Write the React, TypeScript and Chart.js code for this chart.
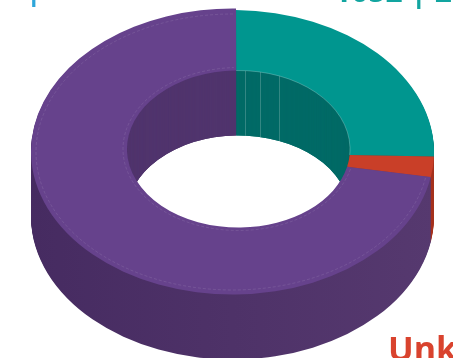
import React, { useEffect, useRef } from "react";
import { Chart, registerables } from "chart.js";

Chart.register(...registerables);

const categories = ["Known", "Unknown", "Other"];
const counts = [1052, 99, 2974];
const faceColors = ["#00968f", "#c93f28", "#66428c"];
const innerWallColors = ["#006a66", "#a5301c", "#50346d"];
const outerWallStops = [
  ["#00706b", "#00706b"],
  ["#a5301c", "#a5301c"],
  ["#462b61", "#56396f"],
];
const topLabels = [
  { before: "2974 |", rest: " 72%", pipeRight: 42, baseline: 0, color: "#2fa6da" },
  { before: "1052 |", rest: " 25%", pipeRight: 427, baseline: 2, color: "#12a5a0" },
];
const bottomLabel = { text: "Unknown", x: 388, baseline: 361, color: "#d9432e" };
const wallFacetDegrees = [3.5, 11.2, 21.5];

// Projected ring: the rims sit on slightly different centres, and the
// largest slice stands a touch prouder than the other two.
const OUTER = { x: 232.5, y: 152, rx: 201.5, ry: 142 };
const OUTER_RAISED = { x: 232.5, y: 151.5, rx: 201.5, ry: 143 };
const INNER = { x: 238.5, y: 149, rx: 111.5, ry: 78.5 };
const DEPTH = 65;
const RAD = Math.PI / 180;
const RAISED_SLICE = 2;

const outerAngle = (a: number) => a + Math.cos(a + Math.PI / 2) * RAD;
const innerAngle = (a: number) =>
  a + (-1.2 * Math.cos(a + Math.PI / 2) + 2.5 * Math.sin(a + Math.PI / 2)) * RAD;

function ringPath(ctx: CanvasRenderingContext2D, start: number, end: number, dy: number, slice: number) {
  const o = slice === RAISED_SLICE ? OUTER_RAISED : OUTER;
  ctx.beginPath();
  ctx.ellipse(o.x, o.y + dy, o.rx, o.ry, 0, outerAngle(start), outerAngle(end));
  ctx.ellipse(INNER.x, INNER.y + dy, INNER.rx, INNER.ry, 0, innerAngle(end), innerAngle(start), true);
  ctx.closePath();
}

const ring3d = {
  id: "ring3d",
  beforeDatasetDraw(chart: any) {
    const ctx: CanvasRenderingContext2D = chart.ctx;
    const arcs = chart.getDatasetMeta(0).data;
    const spans = arcs.map((el: any) => el.getProps(["startAngle", "endAngle"], true));

    // Side walls: the face is stacked from the deepest layer up.
    ctx.save();
    for (let dy = DEPTH; dy >= 1; dy--) {
      spans.forEach((s: any, i: number) => {
        const g = ctx.createLinearGradient(OUTER.x - OUTER.rx, 0, OUTER.x + OUTER.rx, 0);
        g.addColorStop(0, outerWallStops[i][0]);
        g.addColorStop(1, outerWallStops[i][1]);
        ctx.fillStyle = g;
        ringPath(ctx, s.startAngle, s.endAngle, dy, i);
        ctx.fill();
      });
    }
    ctx.restore();

    // The wall seen through the hole has its own shade.
    ctx.save();
    ctx.beginPath();
    ctx.ellipse(INNER.x, INNER.y, INNER.rx, INNER.ry, 0, 0, Math.PI * 2);
    ctx.clip();
    for (let dy = DEPTH; dy >= 1; dy--) {
      spans.forEach((s: any, i: number) => {
        ctx.fillStyle = innerWallColors[i];
        ringPath(ctx, s.startAngle, s.endAngle, dy, i);
        ctx.fill();
      });
    }
    ctx.strokeStyle = "rgba(255,255,255,0.2)";
    ctx.lineWidth = 1;
    wallFacetDegrees.forEach((deg) => {
      const a = deg * RAD;
      const x = Math.round(INNER.x + INNER.rx * Math.sin(a)) + 0.5;
      const y = INNER.y - INNER.ry * Math.cos(a);
      ctx.beginPath();
      ctx.moveTo(x, y);
      ctx.lineTo(x, y + DEPTH);
      ctx.stroke();
    });
    ctx.restore();

    // Top faces.
    spans.forEach((s: any, i: number) => {
      ctx.fillStyle = arcs[i].options.backgroundColor;
      ringPath(ctx, s.startAngle, s.endAngle, 0, i);
      ctx.fill();
    });

    // Fine trim lines on the largest slice, set in from its rims.
    const big = spans[RAISED_SLICE];
    ctx.save();
    ctx.lineWidth = 0.6;
    ctx.strokeStyle = "rgba(255,255,255,0.17)";
    ctx.setLineDash([3, 2]);
    ctx.beginPath();
    ctx.ellipse(OUTER.x, OUTER.y, OUTER.rx - 5, OUTER.ry - 4, 0, outerAngle(big.startAngle) + 0.01, outerAngle(big.endAngle) - 0.01);
    ctx.stroke();
    ctx.beginPath();
    ctx.ellipse(INNER.x, INNER.y, INNER.rx + 4, INNER.ry + 3, 0, innerAngle(big.startAngle) + 0.02, innerAngle(big.endAngle) - 0.02);
    ctx.stroke();
    ctx.restore();

    // Light rim along the first slice's hole edge.
    ctx.save();
    ctx.lineWidth = 0.6;
    ctx.strokeStyle = "rgba(255,255,255,0.4)";
    ctx.beginPath();
    ctx.ellipse(INNER.x, INNER.y, INNER.rx, INNER.ry, 0, innerAngle(spans[0].startAngle), innerAngle(spans[0].endAngle));
    ctx.stroke();
    ctx.restore();

    return false;
  },
  afterDraw(chart: any) {
    const ctx: CanvasRenderingContext2D = chart.ctx;
    ctx.save();
    ctx.textAlign = "left";
    ctx.textBaseline = "alphabetic";
    ctx.font = "700 30px 'Open Sans'";
    topLabels.forEach((l) => {
      ctx.fillStyle = l.color;
      ctx.fillText(l.before + l.rest, l.pipeRight - ctx.measureText(l.before).width, l.baseline);
    });
    ctx.font = "700 34px 'Open Sans'";
    ctx.fillStyle = bottomLabel.color;
    ctx.fillText(bottomLabel.text, bottomLabel.x, bottomLabel.baseline);
    ctx.restore();
  },
};

export default function App() {
  const ref = useRef<HTMLCanvasElement>(null);
  useEffect(() => {
    const chart = new Chart(ref.current!, {
      type: "doughnut",
      data: {
        labels: categories,
        datasets: [{ data: counts, backgroundColor: faceColors, borderWidth: 0 }],
      },
      options: {
        responsive: false,
        animation: false,
        cutout: "56%",
        plugins: { legend: { display: false }, tooltip: { enabled: false } },
      },
      plugins: [ring3d],
    } as any);
    return () => chart.destroy();
  }, []);
  return (
    <div style={{ position: "fixed", left: 0, top: 0, width: 453, height: 358, overflow: "hidden", background: "#fff" }}>
      <canvas ref={ref} width={453} height={358} style={{ display: "block" }} />
    </div>
  );
}
